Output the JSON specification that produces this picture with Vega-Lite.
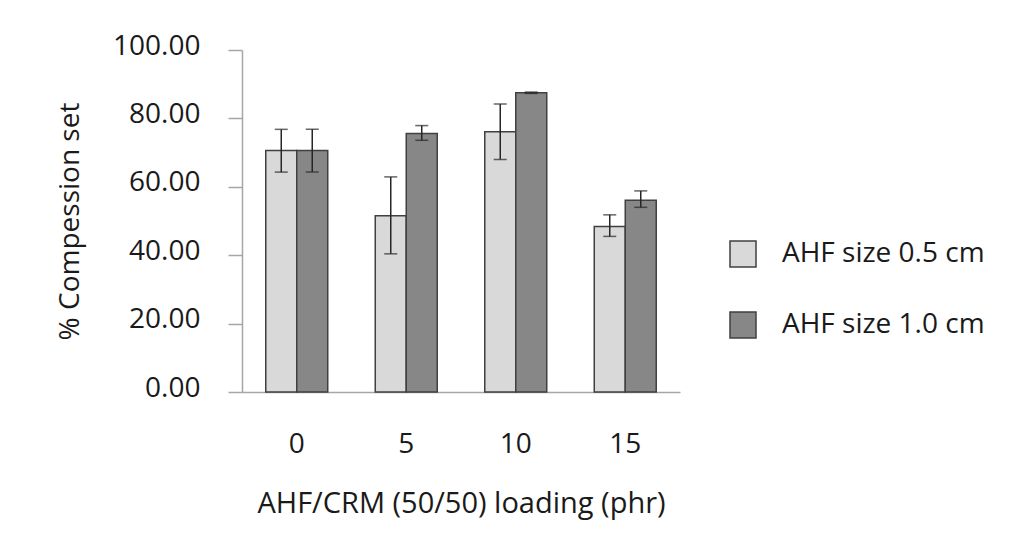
{
  "$schema": "https://vega.github.io/schema/vega-lite/v6.json",
  "width": 438,
  "height": 342,
  "autosize": {"type": "none"},
  "padding": {"left": 242, "top": 50, "right": 334, "bottom": 168},
  "background": "white",
  "config": {
    "view": {"stroke": null},
    "font": "Open Sans",
    "axis": {"labelFont": "Open Sans", "titleFont": "Open Sans", "labelColor": "#1a1a1a", "titleColor": "#1a1a1a", "titleFontWeight": "normal"},
    "legend": {"labelFont": "Open Sans"}
  },
  "data": {
    "values": [
      {"loading": "0", "size": "AHF size 0.5 cm", "mean": 70.6, "lo": 64.3, "hi": 76.8},
      {"loading": "0", "size": "AHF size 1.0 cm", "mean": 70.6, "lo": 64.3, "hi": 76.8},
      {"loading": "5", "size": "AHF size 0.5 cm", "mean": 51.5, "lo": 40.4, "hi": 62.9},
      {"loading": "5", "size": "AHF size 1.0 cm", "mean": 75.6, "lo": 73.6, "hi": 77.9},
      {"loading": "10", "size": "AHF size 0.5 cm", "mean": 76.1, "lo": 68.0, "hi": 84.2},
      {"loading": "10", "size": "AHF size 1.0 cm", "mean": 87.5, "lo": 87.3, "hi": 87.7},
      {"loading": "15", "size": "AHF size 0.5 cm", "mean": 48.4, "lo": 45.5, "hi": 51.8},
      {"loading": "15", "size": "AHF size 1.0 cm", "mean": 56.1, "lo": 54.0, "hi": 58.8}
    ]
  },
  "encoding": {
    "x": {
      "field": "loading",
      "type": "nominal",
      "sort": ["0", "5", "10", "15"],
      "scale": {"paddingInner": 0.434, "paddingOuter": 0.217},
      "axis": {
        "title": "AHF/CRM (50/50) loading (phr)",
        "titleFontSize": 29,
        "titlePadding": 31,
        "labelFontSize": 28,
        "labelAngle": 0,
        "labelPadding": 38,
        "ticks": false,
        "domainColor": "#a6a6a6",
        "domainWidth": 1.5
      }
    },
    "xOffset": {"field": "size", "type": "nominal", "scale": {"paddingInner": 0, "paddingOuter": 0}}
  },
  "layer": [
    {
      "mark": {"type": "bar", "stroke": "#404040", "strokeWidth": 1.5},
      "encoding": {
        "y": {
          "field": "mean",
          "type": "quantitative",
          "scale": {"domain": [0, 100], "nice": false},
          "axis": {
            "title": "% Compession set",
            "titleFontSize": 28,
            "titlePadding": 28,
            "labelFontSize": 28,
            "labelPadding": 28,
            "labelOffset": -4,
            "values": [0, 20, 40, 60, 80, 100],
            "format": ".2f",
            "tickSize": 14,
            "tickColor": "#a6a6a6",
            "tickWidth": 1.5,
            "domainColor": "#a6a6a6",
            "domainWidth": 1.5,
            "grid": false
          }
        },
        "fill": {
          "field": "size",
          "type": "nominal",
          "scale": {"range": ["#d9d9d9", "#878787"]},
          "legend": {
            "title": null,
            "orient": "none",
            "legendX": 487,
            "legendY": 190,
            "symbolType": "square",
            "symbolSize": 676,
            "symbolStrokeColor": "#404040",
            "symbolStrokeWidth": 1.5,
            "labelFontSize": 28,
            "labelLimit": 400,
            "labelColor": "#1a1a1a",
            "labelOffset": 25,
            "rowPadding": 39
          }
        }
      }
    },
    {
      "mark": {"type": "rule", "color": "#262626", "strokeWidth": 1.5},
      "encoding": {
        "y": {"field": "lo", "type": "quantitative"},
        "y2": {"field": "hi"}
      }
    },
    {
      "mark": {"type": "tick", "color": "#262626", "size": 13, "thickness": 1.5},
      "encoding": {"y": {"field": "lo", "type": "quantitative"}}
    },
    {
      "mark": {"type": "tick", "color": "#262626", "size": 13, "thickness": 1.5},
      "encoding": {"y": {"field": "hi", "type": "quantitative"}}
    }
  ]
}
